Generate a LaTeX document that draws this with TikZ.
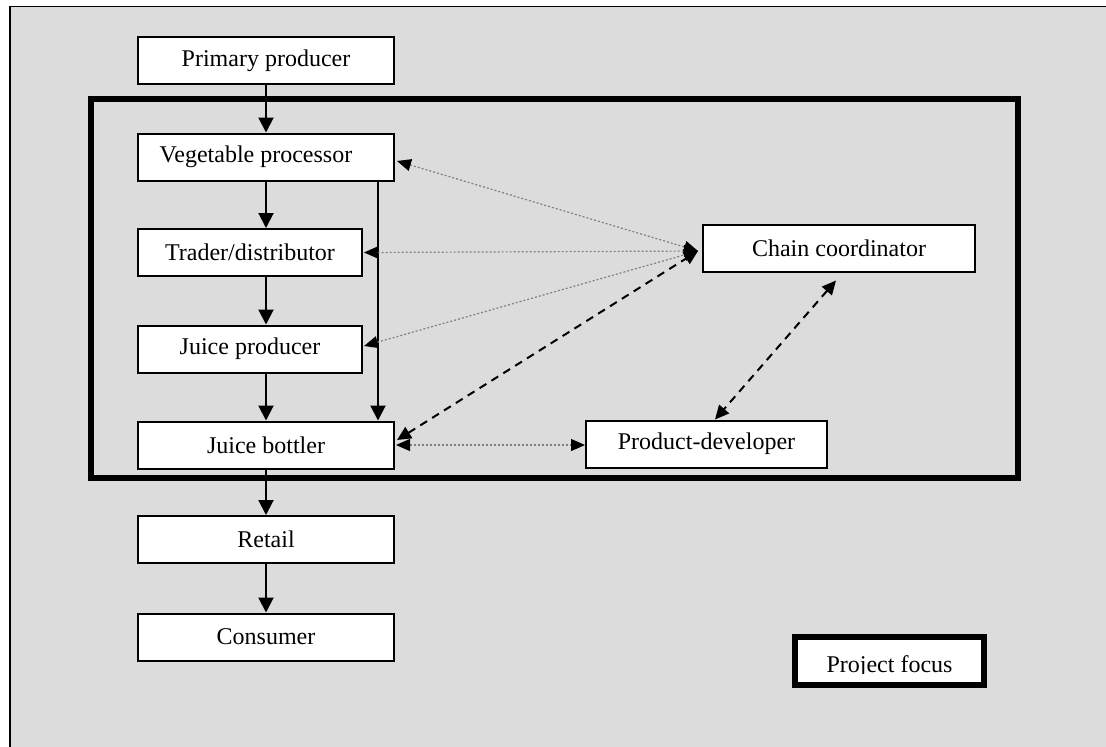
\documentclass[tikz,border=0pt]{standalone}
\usepackage{fontspec}
\setmainfont{Liberation Serif}
\usetikzlibrary{arrows.meta}
\definecolor{bggray}{HTML}{DCDCDC}
\begin{document}
\begin{tikzpicture}[x=0.5pt,y=-0.5pt,
  box/.style={draw,line width=1pt,fill=white,inner sep=0pt,minimum height=23.5pt,font=\fontsize{12}{14}\selectfont},
  flow/.style={line width=1pt,-{Triangle[length=7.5pt,width=7.5pt]}},
  dotlink/.style={gray,line width=0.6pt,dash pattern=on 1pt off 1pt,
    {Triangle[length=7pt,width=6pt,color=black]}-{Triangle[length=7pt,width=6pt,color=black]}},
  dashlink/.style={line width=1pt,dash pattern=on 4pt off 3pt,
    {Triangle[length=7pt,width=6.5pt]}-{Triangle[length=7pt,width=6.5pt]}},
  focusframe/.style={line width=3pt}
]
\useasboundingbox (0,0) rectangle (1106,746);
\clip (0,0) rectangle (1106,746);
\fill[white] (0,0) rectangle (1106,746);
\draw[line width=0.75pt,fill=bggray] (10,6.5) rectangle (1130,770);

% project focus frame
\draw[focusframe] (91,99) rectangle (1018,478);

% nodes
\node[box,minimum width=128pt] (prim) at (266,60.5) {Primary producer};
\node[box,minimum width=128pt] (veg) at (266,157) {Vegetable processor\hspace*{10pt}};
\node[box,minimum width=112pt] (trader) at (250,252.5) {Trader/distributor};
\node[box,minimum width=112pt] (jp) at (250,349) {Juice producer};
\node[box,minimum width=128pt] (bottler) at (266,445) {Juice bottler};
\node[box,minimum width=128pt] (retail) at (266,539.5) {Retail};
\node[box,minimum width=128pt] (consumer) at (266,637) {Consumer};
\node[box,minimum width=136pt] (cc) at (839,248) {Chain coordinator};
\node[box,minimum width=120.5pt] (pd) at (706.5,444) {Product-developer};

% legend
\node[draw,line width=3pt,fill=white,inner sep=0pt,minimum width=94.5pt,minimum height=24pt] (legend) at (889.5,661) {};
\begin{scope}
\clip (797,640) rectangle (981,673);
\node[font=\fontsize{12}{14}\selectfont,anchor=base,inner sep=0pt] (legendtext) at (889.5,672) {Project focus};
\end{scope}

% main chain
\coordinate (side) at (378,0);
\draw[flow] (prim.south) -- (veg.north);
\draw[flow] (veg.south) -- (veg.south |- trader.north);
\draw[flow] (veg.south |- trader.south) -- (veg.south |- jp.north);
\draw[flow] (bottler.north |- jp.south) -- (bottler.north);
\draw[flow] (bottler.south) -- (retail.north);
\draw[flow] (retail.south) -- (consumer.north);
\draw[flow] (veg.south -| side) -- (bottler.north -| side);

% coordination links
\coordinate (hub) at (698,251);
\draw[dotlink] ([xshift=1pt,yshift=-2pt]veg.east) -- (hub);
\draw[dotlink] ([xshift=0.5pt]trader.east) -- (hub);
\draw[dotlink] ([xshift=0.5pt,yshift=1.5pt]jp.east) -- (hub);
\draw[dashlink] ([xshift=1pt,yshift=2.5pt]bottler.east) -- (hub);
\draw[dotlink] ([xshift=0.5pt]bottler.east) -- (bottler.east -| pd.west);
\draw[dashlink] ([xshift=-1.5pt,yshift=-4pt]cc.south) -- ([xshift=4.25pt]pd.north);
\end{tikzpicture}
\end{document}
